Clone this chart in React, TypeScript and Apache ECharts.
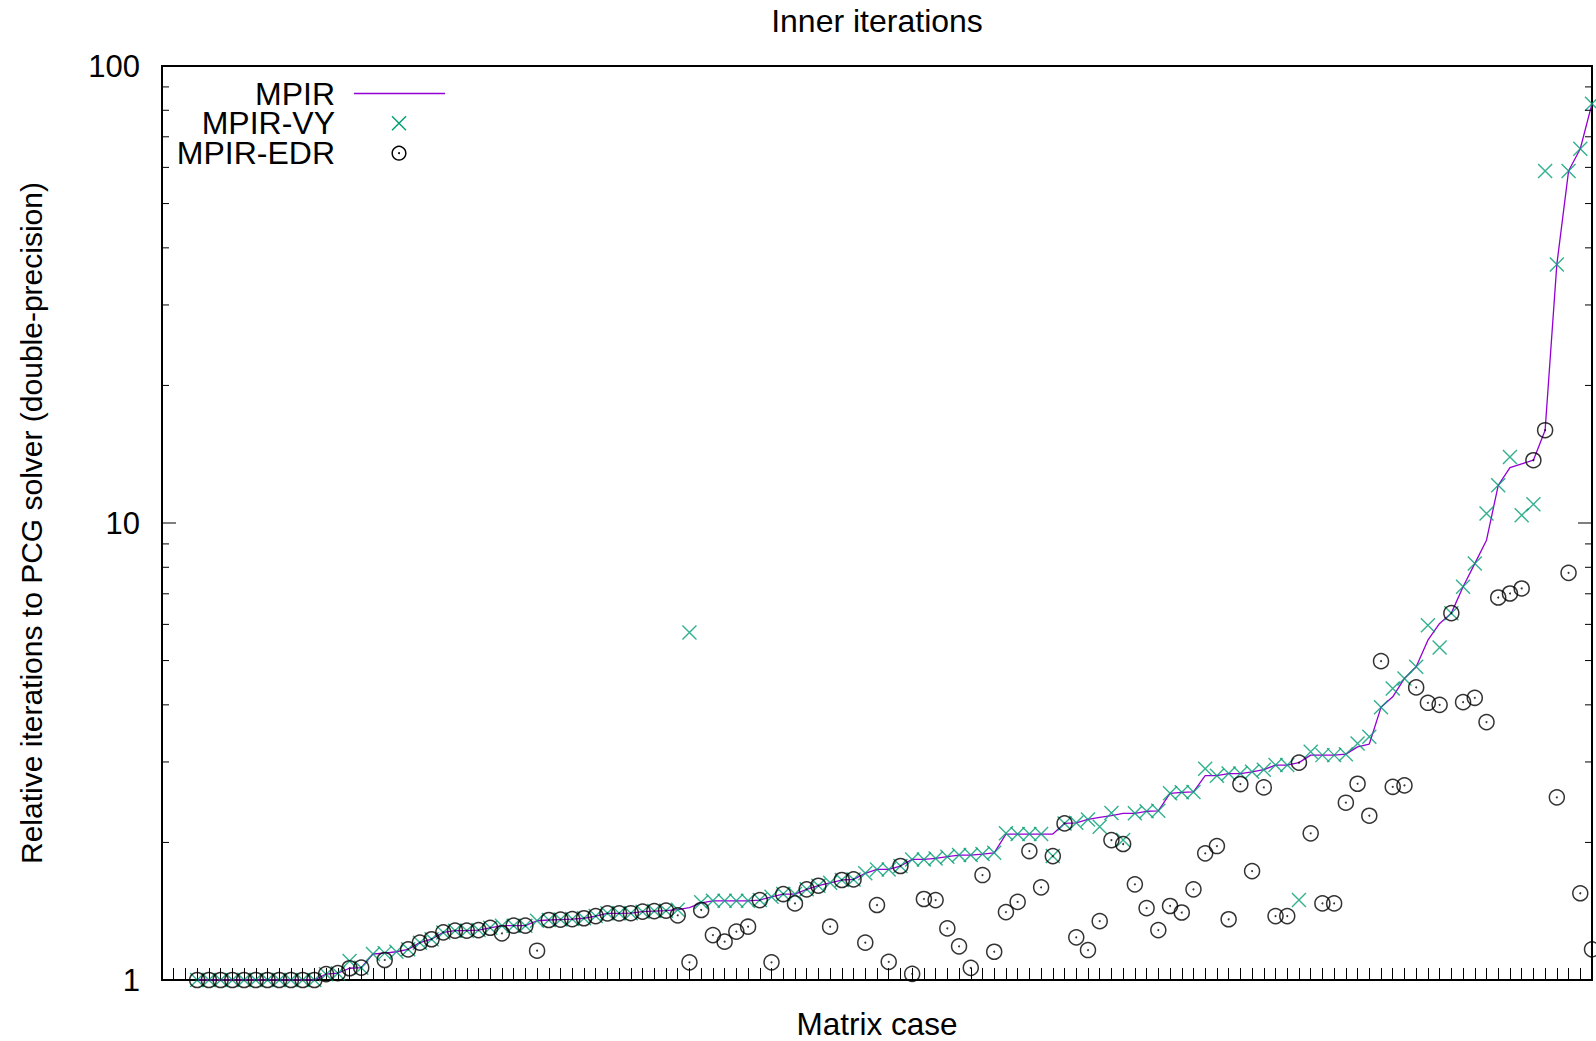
import React, { useEffect, useRef } from "react";
import * as echarts from "echarts";

const FONT = "'Liberation Sans', Arial, Helvetica, sans-serif";
const TITLE = "Inner iterations";
const X_NAME = "Matrix case";
const Y_NAME = "Relative iterations to PCG solver (double-precision)";
const SERIES_NAMES = ["MPIR", "MPIR-VY", "MPIR-EDR"];

// Matrix cases are numbered along x; the first plotted case is 3, the axis runs 0..122.
const FIRST_CASE = 3;
const X_MAX = 122;

const Y_MAJOR = [1, 10, 100];
const Y_MINOR = [2, 3, 4, 5, 6, 7, 8, 9, 20, 30, 40, 50, 60, 70, 80, 90];

// Relative iteration counts, one entry per matrix case (cases 3..122), sorted by MPIR.
const mpir: number[] = [
  1, 1, 1, 1, 1, 1, 1, 1, 1, 1,
  1, 1.03, 1.035, 1.061, 1.064, 1.14, 1.145, 1.153, 1.167, 1.207,
  1.228, 1.271, 1.282, 1.282, 1.286, 1.301, 1.315, 1.315, 1.315, 1.348,
  1.353, 1.356, 1.359, 1.365, 1.38, 1.399, 1.399, 1.4, 1.411, 1.415,
  1.418, 1.425, 1.44, 1.475, 1.49, 1.49, 1.49, 1.49, 1.496, 1.521,
  1.542, 1.542, 1.579, 1.608, 1.632, 1.655, 1.66, 1.712, 1.746, 1.746,
  1.776, 1.836, 1.836, 1.845, 1.861, 1.877, 1.877, 1.886, 1.898, 2.086,
  2.086, 2.086, 2.086, 2.086, 2.201, 2.208, 2.246, 2.269, 2.29, 2.316,
  2.316, 2.34, 2.345, 2.561, 2.575, 2.58, 2.8, 2.8, 2.83, 2.83,
  2.855, 2.886, 2.953, 2.953, 2.99, 3.105, 3.105, 3.105, 3.12, 3.237,
  3.283, 3.95, 4.166, 4.57, 4.846, 5.54, 6.03, 6.35, 7.25, 8.15,
  9.17, 12.09, 13.22, 13.47, 13.72, 15.96, 36.8, 58.9, 65.9, 82.7,
];

const mpirVY: number[] = [
  1, 1, 1, 1, 1, 1, 1, 1, 1, 1,
  1, 1.03, 1.035, 1.1, 1.064, 1.14, 1.145, 1.153, 1.167, 1.207,
  1.228, 1.271, 1.282, 1.282, 1.286, 1.301, 1.315, 1.315, 1.315, 1.348,
  1.353, 1.356, 1.359, 1.365, 1.38, 1.399, 1.399, 1.4, 1.411, 1.415,
  1.418, 1.425, 5.76, 1.48, 1.49, 1.49, 1.49, 1.49, 1.496, 1.521,
  1.542, 1.542, 1.579, 1.608, 1.632, 1.655, 1.66, 1.712, 1.746, 1.746,
  1.776, 1.836, 1.836, 1.845, 1.861, 1.877, 1.877, 1.886, 1.898, 2.094,
  2.086, 2.086, 2.086, 1.867, 2.201, 2.208, 2.246, 2.164, 2.32, 2.024,
  2.316, 2.34, 2.345, 2.561, 2.575, 2.58, 2.9, 2.8, 2.83, 2.83,
  2.855, 2.886, 2.953, 2.953, 1.496, 3.158, 3.105, 3.105, 3.12, 3.294,
  3.406, 3.95, 4.345, 4.57, 4.846, 5.976, 5.34, 6.35, 7.25, 8.15,
  10.49, 12.09, 13.95, 10.4, 10.99, 58.9, 36.8, 58.9, 65.9, 82.7,
];

const mpirEDR: (number | null)[] = [
  1, 1, 1, 1, 1, 1, 1, 1, 1, 1,
  1, 1.03, 1.035, 1.061, 1.064, null, 1.106, null, 1.167, 1.207,
  1.228, 1.271, 1.282, 1.282, 1.286, 1.301, 1.265, 1.315, 1.315, 1.159,
  1.353, 1.356, 1.359, 1.365, 1.38, 1.399, 1.399, 1.4, 1.411, 1.415,
  1.418, 1.385, 1.093, 1.423, 1.254, 1.213, 1.276, 1.308, 1.496, 1.093,
  1.542, 1.471, 1.579, 1.608, 1.308, 1.655, 1.66, 1.207, 1.459, 1.096,
  1.776, 1.031, 1.504, 1.496, 1.297, 1.185, 1.063, 1.697, 1.153, 1.408,
  1.482, 1.915, 1.595, 1.867, 2.201, 1.24, 1.163, 1.345, 2.024, 1.984,
  1.619, 1.436, 1.286, 1.452, 1.405, 1.579, 1.893, 1.964, 1.358, 2.684,
  1.731, 2.639, 1.38, 1.38, 2.99, 2.094, 1.471, 1.471, 2.443, 2.688,
  2.288, 4.986, 2.647, 2.666, 4.367, 4.042, 4.0, 6.35, 4.055, 4.145,
  3.667, 6.87, 7.01, 7.19, 13.72, 15.96, 2.51, 7.78, 1.548, 1.167,
];

const COLORS = { mpir: "#9400d3", vy: "#009e73", edr: "#000000" };
const CROSS = "path://M0,0L10,10M10,0L0,10";

function toPoints(values: (number | null)[]): [number, number][] {
  const out: [number, number][] = [];
  values.forEach((v, k) => {
    if (v != null) out.push([FIRST_CASE + k, v]);
  });
  return out;
}

export default function App() {
  const ref = useRef<HTMLDivElement>(null);

  useEffect(() => {
    const el = ref.current;
    if (!el) return;
    const chart = echarts.init(el, null, { renderer: "svg" });
    const edrPoints = toPoints(mpirEDR);

    chart.setOption({
      animation: false,
      backgroundColor: "#ffffff",
      grid: {
        left: 162,
        right: 4,
        top: 66,
        bottom: 61,
        show: true,
        borderColor: "#000",
        borderWidth: 2,
        backgroundColor: "transparent",
      },
      xAxis: {
        type: "value",
        min: 0,
        max: X_MAX,
        interval: 1,
        axisLine: { show: false },
        axisLabel: { show: false },
        splitLine: { show: false },
        axisTick: { show: true, inside: true, length: 12, lineStyle: { color: "#000", width: 1 } },
      },
      yAxis: {
        type: "log",
        logBase: 10,
        min: 1,
        max: 100,
        splitNumber: 2,
        axisLine: { show: false },
        axisTick: { show: false },
        splitLine: { show: false },
        axisLabel: {
          show: true,
          margin: 22,
          color: "#000",
          fontSize: 31,
          fontFamily: FONT,
          formatter: (v: number) => String(v),
        },
      },
      series: [
        {
          name: SERIES_NAMES[0],
          type: "line",
          data: toPoints(mpir),
          showSymbol: false,
          silent: true,
          lineStyle: { color: COLORS.mpir, width: 1.3 },
          z: 2,
        },
        {
          name: SERIES_NAMES[1],
          type: "scatter",
          data: toPoints(mpirVY),
          symbol: CROSS,
          symbolSize: 14,
          clip: false,
          silent: true,
          itemStyle: { color: "transparent", borderColor: COLORS.vy, borderWidth: 1.4 },
          z: 3,
        },
        {
          name: SERIES_NAMES[2],
          type: "scatter",
          data: edrPoints,
          symbol: "circle",
          symbolSize: 15,
          clip: false,
          silent: true,
          itemStyle: { color: "transparent", borderColor: COLORS.edr, borderWidth: 1.5 },
          z: 4,
        },
        {
          name: SERIES_NAMES[2] + " centre",
          type: "scatter",
          data: edrPoints,
          symbol: "circle",
          symbolSize: 2,
          clip: false,
          silent: true,
          itemStyle: { color: COLORS.edr },
          z: 4,
        },
      ],
    });

    // Log-axis ticks on both sides of the frame (major 1/10/100, minor 2..9 per decade).
    const xl = chart.convertToPixel({ xAxisIndex: 0 }, 0) as number;
    const xr = chart.convertToPixel({ xAxisIndex: 0 }, X_MAX) as number;
    const tickLine = (x1: number, y: number, x2: number) => ({
      type: "line",
      silent: true,
      z: 10,
      shape: { x1, y1: y, x2, y2: y },
      style: { stroke: "#000", lineWidth: 1 },
    });
    const ticks: any[] = [];
    Y_MAJOR.forEach((v) => {
      const y = chart.convertToPixel({ yAxisIndex: 0 }, v) as number;
      ticks.push(tickLine(xl, y, xl + 14), tickLine(xr - 14, y, xr));
    });
    Y_MINOR.forEach((v) => {
      const y = chart.convertToPixel({ yAxisIndex: 0 }, v) as number;
      ticks.push(tickLine(xl, y, xl + 7), tickLine(xr - 7, y, xr));
    });

    const text = (s: string, x: number, y: number, align: string, size: number, extra: any = {}) => ({
      type: "text",
      x,
      y,
      silent: true,
      z: 20,
      ...extra,
      style: {
        text: s,
        fill: "#000",
        fontSize: size,
        lineHeight: 26,
        fontFamily: FONT,
        align,
        verticalAlign: "middle",
      },
    });

    // Key: names right-aligned, sample marks to the right.
    const keyX = 335;
    const markX = 399;
    const rows = [93.5, 123.3, 153.2];
    const legend: any[] = [
      text(SERIES_NAMES[0], keyX, rows[0], "right", 32),
      text(SERIES_NAMES[1], keyX, rows[1], "right", 32),
      text(SERIES_NAMES[2], keyX, rows[2], "right", 32),
      {
        type: "line",
        silent: true,
        z: 20,
        shape: { x1: 354, y1: rows[0], x2: 445, y2: rows[0] },
        style: { stroke: COLORS.mpir, lineWidth: 1.3 },
      },
      {
        type: "line",
        silent: true,
        z: 20,
        shape: { x1: markX - 7, y1: rows[1] - 7, x2: markX + 7, y2: rows[1] + 7 },
        style: { stroke: COLORS.vy, lineWidth: 1.4 },
      },
      {
        type: "line",
        silent: true,
        z: 20,
        shape: { x1: markX + 7, y1: rows[1] - 7, x2: markX - 7, y2: rows[1] + 7 },
        style: { stroke: COLORS.vy, lineWidth: 1.4 },
      },
      {
        type: "circle",
        silent: true,
        z: 20,
        shape: { cx: markX, cy: rows[2], r: 6.8 },
        style: { fill: "none", stroke: COLORS.edr, lineWidth: 1.5 },
      },
      {
        type: "circle",
        silent: true,
        z: 20,
        shape: { cx: markX, cy: rows[2], r: 1 },
        style: { fill: COLORS.edr },
      },
    ];

    const labels: any[] = [
      text(TITLE, (xl + xr) / 2, 20.5, "center", 32),
      text(X_NAME, (xl + xr) / 2, 1023.5, "center", 31.5),
      text(Y_NAME, 31, 523, "center", 30, { rotation: Math.PI / 2 }),
    ];

    chart.setOption({ graphic: [...ticks, ...legend, ...labels] });

    return () => {
      chart.dispose();
    };
  }, []);

  return (
    <div
      ref={ref}
      style={{ position: "fixed", left: 0, top: 0, width: 1596, height: 1041, background: "#fff" }}
    />
  );
}
